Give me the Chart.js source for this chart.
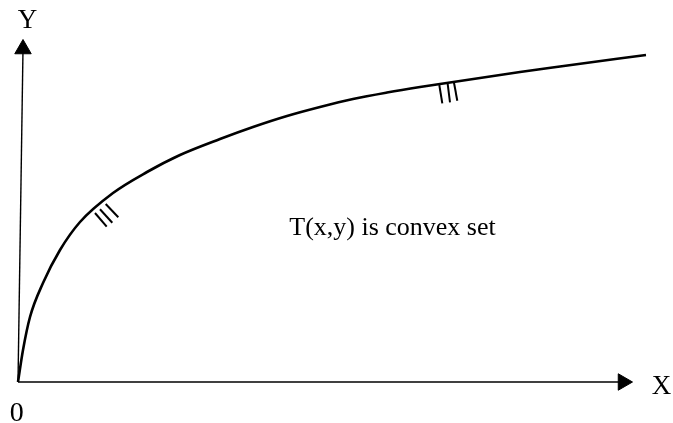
<!DOCTYPE html>
<html>
<head>
<meta charset="utf-8">
<script src="https://cdn.jsdelivr.net/npm/chart.js@4.4.1/dist/chart.umd.min.js"></script>
<style>
  body { margin: 0; background: #fff; }
  #wrap { width: 673px; height: 423px; position: relative; }
</style>
</head>
<body>
<div id="wrap"><canvas id="chart"></canvas></div>
<script>
/* curva (x, y), origen en el 0 */
const curvaX = [0, 5, 12, 25, 42, 62, 95, 129, 162, 202, 235, 269, 302, 335, 369, 402, 502, 542, 628]
const curvaY = [0, 32, 65, 99, 132, 160, 189, 210, 227, 243, 255, 266, 275, 283, 289.5, 295, 310, 315.5, 327]

/* ejes */
const ejeX = [[0, 0], [605, 0]]
const ejeY = [[0, 0], [5, 333]]

/* marcas de la curva (tres rayitas en dos sitios) */
const marcas1 = [
  [[77, 169], [88.7, 155.3]],
  [[82, 172.7], [94.3, 159.3]],
  [[87.7, 178], [100.3, 164.7]]
]
const marcas2 = [
  [[421.3, 297], [424.3, 278.7]],
  [[429.7, 298], [432, 279.7]],
  [[436, 299.3], [439.3, 281.3]]
]

/* textos */
const textos = ["Y", "X", "0", "T(x,y) is convex set"]
const textosX = [9.5, 643.5, -1.3, 374.5]
const textosY = [354, -12, -39, 147]
const textosTam = [27, 27, 28, 26]

const toPts = (xs, ys) => xs.map((x, i) => ({ x: x, y: ys[i] }))
const par = (p) => p.map((q) => ({ x: q[0], y: q[1] }))

const linea = (data, ancho) => ({
  data: data,
  showLine: true,
  borderColor: '#000',
  borderWidth: ancho,
  pointRadius: 0,
  pointHoverRadius: 0,
  fill: false,
  clip: false
})

const datasets = []
datasets.push(Object.assign(linea(toPts(curvaX, curvaY), 2.6), { cubicInterpolationMode: 'monotone' }))
datasets.push(linea(par(ejeX), 1.4))
datasets.push(linea(par(ejeY), 1.4))
marcas1.concat(marcas2).forEach((m) => datasets.push(linea(par(m), 2)))

/* puntas de flecha */
datasets.push({
  data: [par(ejeX)[1], par(ejeY)[1]],
  showLine: false,
  pointStyle: 'triangle',
  pointRadius: 9.5,
  pointHoverRadius: 9.5,
  pointRotation: [90, 0],
  backgroundColor: '#000',
  borderColor: '#000',
  borderWidth: 1,
  clip: false
})

const textoPlugin = {
  id: 'textos',
  afterDraw(chart) {
    const ctx = chart.ctx
    const sx = chart.scales.x
    const sy = chart.scales.y
    ctx.save()
    ctx.fillStyle = '#000'
    ctx.textAlign = 'center'
    ctx.textBaseline = 'alphabetic'
    textos.forEach((t, i) => {
      ctx.font = textosTam[i] + 'px "Liberation Serif", "Times New Roman", serif'
      ctx.fillText(t, sx.getPixelForValue(textosX[i]), sy.getPixelForValue(textosY[i]))
    })
    ctx.restore()
  }
}

new Chart(document.getElementById('chart'), {
  type: 'scatter',
  data: { datasets: datasets },
  options: {
    responsive: true,
    maintainAspectRatio: false,
    animation: false,
    layout: { padding: 0, autoPadding: false },
    plugins: { legend: { display: false }, tooltip: { enabled: false } },
    scales: {
      x: { type: 'linear', min: -18, max: 655, display: false },
      y: { type: 'linear', min: -41, max: 382, display: false }
    }
  },
  plugins: [textoPlugin]
})
</script>
</body>
</html>
